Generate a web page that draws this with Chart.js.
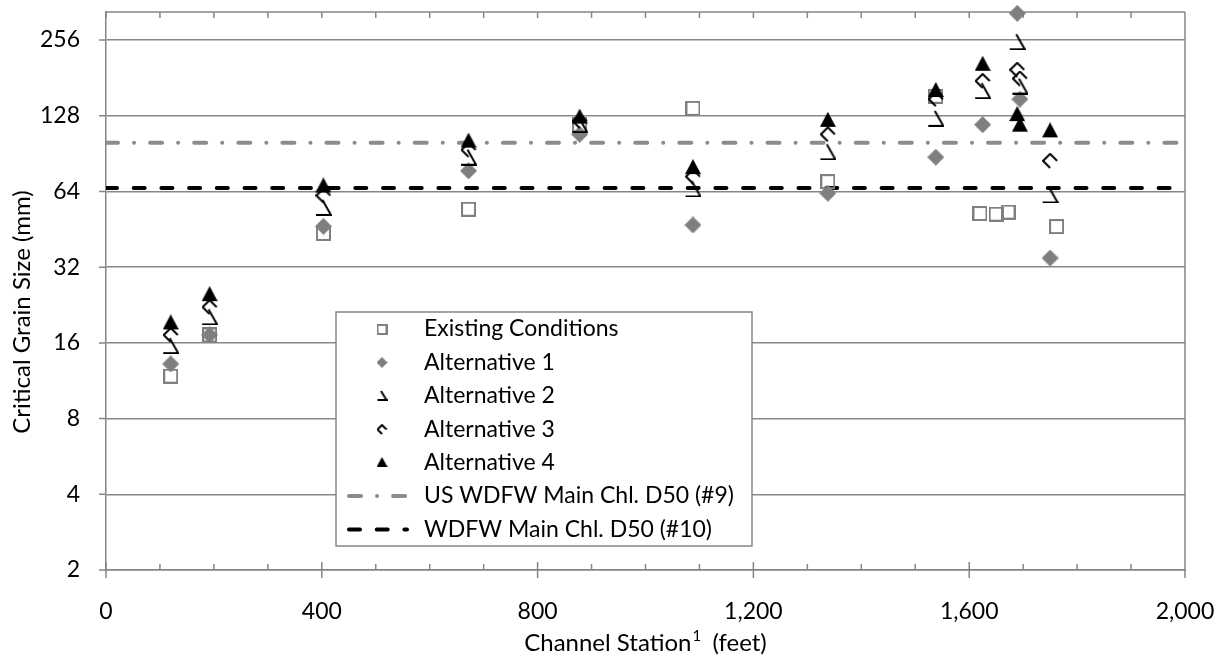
<!DOCTYPE html>
<html>
<head>
<meta charset="utf-8">
<script src="https://cdn.jsdelivr.net/npm/chart.js@4.4.1/dist/chart.umd.min.js"></script>
<style>
  html, body { margin: 0; padding: 0; background: #fff; }
  #wrap { width: 1221px; height: 655px; position: relative; }
</style>
</head>
<body>
<div id="wrap"><canvas id="grainChart"></canvas></div>
<script>
// channel station (ft) / critical grain size (mm)
const existingStations = [120, 192, 403, 672, 878, 1088, 1338, 1538, 1620, 1650, 1672, 1762];
const existingSizes = [11.8, 17.2, 43.6, 54.4, 118, 137, 70, 153, 52.3, 52, 53, 46.4];

const altStations = [120, 192, 403, 672, 878, 1088, 1338, 1538, 1625, 1689, 1694, 1750];
const alt1Sizes = [13.2, 17.2, 46.5, 77.3, 108, 47.1, 63, 87.6, 118, 327, 149, 34.8];
const alt2Sizes = [15.6, 20.3, 55.3, 87.6, 118, 65.5, 92, 125, 161, 252, 168, 62];
const alt3Sizes = [17.2, 22.2, 61.7, 93.7, 122, 73.4, 108, 149, 176, 195, 180, 84.7];
const alt4Sizes = [19.3, 25, 67.6, 102, 127, 80, 123.3, 162, 206, 130, 118, 112];

const d50Stations = [0, 2000];
const usD50 = [100, 100];
const mainD50 = [66, 66];

const xTicks = [0, 400, 800, 1200, 1600, 2000];
const yTicks = [2, 4, 8, 16, 32, 64, 128, 256];

const seriesNames = [
    'Existing Conditions',
    'Alternative 1',
    'Alternative 2',
    'Alternative 3',
    'Alternative 4',
    'US WDFW Main Chl. D50 (#9)',
    'WDFW Main Chl. D50 (#10)'
];

const FONT = 'Lato';
const GRID = '#868686';

function makeMarker(kind, s) {
    const c = document.createElement('canvas');
    c.width = s;
    c.height = s;
    const g = c.getContext('2d');
    const h = s / 2;
    g.lineWidth = 2;
    g.strokeStyle = '#000';
    g.fillStyle = '#000';
    g.beginPath();
    if (kind === 'square') {
        g.strokeStyle = '#7f7f7f';
        g.strokeRect(1, 1, s - 2, s - 2);
        return c;
    } else if (kind === 'diamond') {
        g.fillStyle = '#7f7f7f';
        g.moveTo(h, 0); g.lineTo(s, h); g.lineTo(h, s); g.lineTo(0, h);
        g.closePath();
        g.fill();
    } else if (kind === 'triangle') {
        g.moveTo(h, 0); g.lineTo(s, s - 1); g.lineTo(0, s - 1);
        g.closePath();
        g.fill();
    } else if (kind === 'corner') {
        g.moveTo(h - 1, 1); g.lineTo(s - 1, s - 1); g.lineTo(1, s - 1);
        g.stroke();
    } else if (kind === 'chevron') {
        g.moveTo(s - 1, h); g.lineTo(h, 1); g.lineTo(1, h); g.lineTo(h, s - 1);
        g.stroke();
    }
    return c;
}

const markerKinds = ['square', 'diamond', 'corner', 'chevron', 'triangle'];
const plotSizes = [15, 17, 17, 16, 16];
const plotMarkers = markerKinds.map((k, i) => makeMarker(k, plotSizes[i]));
const legendMarkers = markerKinds.map(k => makeMarker(k, 11));

const lineStyles = [
    { color: '#8c8c8c', dash: [12, 16, 0.1, 16] },
    { color: '#000000', dash: [11, 16.7] }
];

function pts(xs, ys) {
    return xs.map((x, i) => ({ x: x, y: ys[i] }));
}

const pointSets = [
    pts(existingStations, existingSizes),
    pts(altStations, alt1Sizes),
    pts(altStations, alt2Sizes),
    pts(altStations, alt3Sizes),
    pts(altStations, alt4Sizes)
];

const datasets = pointSets.map((data, i) => ({
    label: seriesNames[i],
    data: data,
    showLine: false,
    pointStyle: plotMarkers[i],
    pointRadius: 8,
    order: 6 - i,
    clip: false
}));

[usD50, mainD50].forEach((vals, i) => {
    datasets.push({
        type: 'line',
        label: seriesNames[5 + i],
        data: pts(d50Stations, vals),
        borderColor: lineStyles[i].color,
        borderWidth: 4,
        borderDash: lineStyles[i].dash,
        borderCapStyle: 'round',
        pointRadius: 0,
        fill: false,
        order: 10 - i
    });
});

// axis frame, tick marks and axis titles (Excel style)
const framePlugin = {
    id: 'frame',
    beforeDatasetsDraw(chart) {
        const { ctx, chartArea: a, scales: { x, y } } = chart;
        ctx.save();
        ctx.strokeStyle = GRID;
        ctx.lineWidth = 1.5;
        ctx.beginPath();
        ctx.moveTo(a.left, a.top); ctx.lineTo(a.right, a.top);
        ctx.moveTo(a.right, a.top); ctx.lineTo(a.right, a.bottom);
        for (let v = 0; v <= 2000; v += 100) {
            const px = x.getPixelForValue(v);
            if (v % 400 === 0) {
                ctx.moveTo(px, a.bottom - 8); ctx.lineTo(px, a.bottom + 8);
            } else {
                ctx.moveTo(px, a.bottom - 6); ctx.lineTo(px, a.bottom);
            }
            ctx.moveTo(px, a.top); ctx.lineTo(px, a.top + 6);
        }
        yTicks.forEach(v => {
            const py = y.getPixelForValue(v);
            ctx.moveTo(a.left - 7, py); ctx.lineTo(a.left, py);
        });
        ctx.stroke();

        // axis titles
        ctx.fillStyle = '#000';
        ctx.textBaseline = 'middle';
        ctx.save();
        ctx.translate(22, 312);
        ctx.rotate(-Math.PI / 2);
        ctx.textAlign = 'center';
        ctx.font = '24px ' + FONT;
        ctx.fillText('Critical Grain Size (mm)', 0, 0);
        ctx.restore();

        const t1 = 'Channel Station', sup = '1', t2 = '  (feet)';
        ctx.font = '24px ' + FONT;
        const w1 = ctx.measureText(t1).width, w3 = ctx.measureText(t2).width;
        ctx.font = '15px ' + FONT;
        const w2 = ctx.measureText(sup).width;
        let tx = (a.left + a.right) / 2 - (w1 + w2 + w3) / 2;
        const ty = 643;
        ctx.textAlign = 'left';
        ctx.font = '24px ' + FONT;
        ctx.fillText(t1, tx, ty);
        ctx.font = '15px ' + FONT;
        ctx.fillText(sup, tx + w1 + 1, ty - 7);
        ctx.font = '24px ' + FONT;
        ctx.fillText(t2, tx + w1 + w2, ty);
        ctx.restore();
    }
};

const legendPlugin = {
    id: 'boxLegend',
    afterDatasetsDraw(chart) {
        const ctx = chart.ctx;
        const bx = 336, by = 312, bw = 416, bh = 234;
        ctx.save();
        ctx.fillStyle = '#fff';
        ctx.fillRect(bx, by, bw, bh);
        ctx.strokeStyle = GRID;
        ctx.lineWidth = 1.5;
        ctx.strokeRect(bx, by, bw, bh);
        ctx.font = '23px ' + FONT;
        ctx.textBaseline = 'middle';
        ctx.fillStyle = '#000';
        seriesNames.forEach((name, i) => {
            const ry = 329 + i * 33.4;
            if (i < 5) {
                const m = legendMarkers[i];
                ctx.drawImage(m, 382 - m.width / 2, Math.round(ry - m.height / 2));
            } else {
                const st = lineStyles[i - 5];
                ctx.save();
                ctx.strokeStyle = st.color;
                ctx.lineWidth = 4;
                ctx.lineCap = 'round';
                ctx.setLineDash(st.dash);
                ctx.beginPath();
                ctx.moveTo(349, ry);
                ctx.lineTo(407, ry);
                ctx.stroke();
                ctx.restore();
            }
            ctx.fillText(name, 424, ry);
        });
        ctx.restore();
    }
};

const chart = new Chart(document.getElementById('grainChart'), {
    type: 'scatter',
    data: { datasets: datasets },
    options: {
        responsive: true,
        maintainAspectRatio: false,
        animation: false,
        layout: { padding: { top: 12, right: 36, left: 0, bottom: 0 } },
        plugins: {
            legend: { display: false },
            tooltip: { enabled: false }
        },
        scales: {
            x: {
                type: 'linear',
                min: 0,
                max: 2000,
                afterBuildTicks: s => { s.ticks = xTicks.map(v => ({ value: v })); },
                afterFit: s => {
                    s.height = 85;
                    s.paddingLeft = 0;
                    s.paddingRight = 0;
                },
                ticks: {
                    callback: v => v.toLocaleString('en-US'),
                    font: { family: FONT, size: 23 },
                    color: '#000',
                    padding: 28,
                    maxRotation: 0
                },
                grid: { display: false, drawTicks: false },
                border: { display: true, color: GRID, width: 1.5 }
            },
            y: {
                type: 'logarithmic',
                min: 2,
                max: 331,
                afterBuildTicks: s => { s.ticks = yTicks.map(v => ({ value: v })); },
                afterFit: s => {
                    s.width = 106;
                    s.paddingTop = 0;
                    s.paddingBottom = 0;
                },
                ticks: {
                    callback: v => String(v),
                    font: { family: FONT, size: 23 },
                    color: '#000',
                    padding: 26
                },
                grid: { color: GRID, lineWidth: 1.5, drawTicks: false },
                border: { display: true, color: GRID, width: 1.5 }
            }
        }
    },
    plugins: [framePlugin, legendPlugin]
});
</script>
</body>
</html>
